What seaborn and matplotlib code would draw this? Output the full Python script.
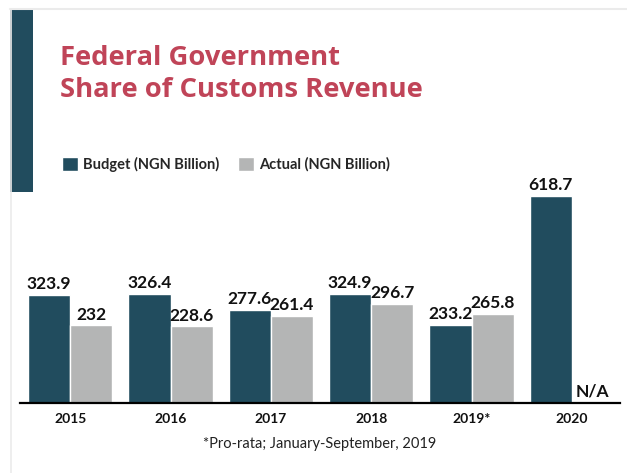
import numpy as np
import pandas as pd
import matplotlib
matplotlib.use("Agg")
import matplotlib.pyplot as plt
import seaborn as sns
from matplotlib.patches import Rectangle
from matplotlib.lines import Line2D

# Customs revenue, federal government share (NGN billion)
years = ["2015", "2016", "2017", "2018", "2019*", "2020"]
budget = [323.9, 326.4, 277.6, 324.9, 233.2, 618.7]
actual = [232, 228.6, 261.4, 296.7, 265.8, np.nan]   # 2020 actual not available
series_names = ["Budget (NGN Billion)", "Actual (NGN Billion)"]

TEAL = "#214c5e"
GREY = "#b4b5b5"
RED = "#c04458"

df = pd.DataFrame({
    "year": years * 2,
    "series": [series_names[0]] * len(years) + [series_names[1]] * len(years),
    "value": budget + actual,
})

sns.set_style("white")
plt.rcParams["font.family"] = ["Lato", "DejaVu Sans"]

W, H = 627, 473
fig = plt.figure(figsize=(W / 100, H / 100), dpi=100)
fig.patch.set_facecolor("white")

# card frame: thin grey top and left edges, teal accent strip
fig.add_artist(Line2D([10 / W, 1], [1 - 9 / H, 1 - 9 / H], color="#ebebeb", lw=1.5))
fig.add_artist(Line2D([10.5 / W, 10.5 / W], [0, 1 - 9 / H], color="#ebebeb", lw=1.2))
fig.add_artist(Rectangle((10 / W, 1 - 192 / H), 23 / W, 183 / H,
                         transform=fig.transFigure, color=TEAL, lw=0))

ax = fig.add_axes([20 / W, 70 / H, 600 / W, 253 / H])
sns.barplot(data=df, x="year", y="value", hue="series", hue_order=series_names,
            palette=[TEAL, GREY], width=0.84, gap=0, saturation=1,
            errorbar=None, ax=ax)

ax.set_ylim(0, 756)
ax.set_xlim(-0.5, 5.48)
ax.set_xlabel("")
ax.set_ylabel("")
ax.set_yticks([])
for s in ["top", "left", "right"]:
    ax.spines[s].set_visible(False)
ax.spines["bottom"].set_color("black")
ax.spines["bottom"].set_linewidth(1.6)
ax.tick_params(axis="x", length=0, pad=7)
for lbl in ax.get_xticklabels():
    lbl.set_fontsize(10)
    lbl.set_fontweight("bold")
    lbl.set_color("#111111")

# value labels above the bars
for cont, vals in zip(ax.containers, [budget, actual]):
    for bar, v in zip(cont, vals):
        if bar is None or np.isnan(v):
            continue
        ax.annotate(f"{v:g}", (bar.get_x() + bar.get_width() / 2, bar.get_height()),
                    xytext=(0, 2), textcoords="offset points", ha="center",
                    va="bottom", fontsize=12.5, fontweight="bold", color="#111111")

ax.text(5.21, 18, "N/A", ha="center", va="baseline", fontsize=12.5,
        fontweight="bold", color="#111111")

sns.move_legend(ax, "upper left", bbox_to_anchor=(62 / W, 1 - 157 / H),
                bbox_transform=fig.transFigure, title=None, frameon=False,
                ncol=2, handlelength=1.08, handleheight=1.08,
                handletextpad=0.35, columnspacing=1.3, borderpad=0,
                borderaxespad=0, prop={"weight": "bold", "size": 10.5})

title_kw = dict(color=RED, fontsize=19.7, fontweight="bold",
                family=["Open Sans", "DejaVu Sans"], va="baseline", ha="left")
fig.text(60 / W, 1 - 65 / H, "Federal Government", **title_kw)
fig.text(60 / W, 1 - 97 / H, "Share of Customs Revenue", **title_kw)

fig.text(320 / W, 1 - 444 / H, "*Pro-rata; January-September, 2019",
         ha="center", va="center", fontsize=10.5, color="#222222")

fig.savefig("out.png", dpi=100, facecolor="white")
